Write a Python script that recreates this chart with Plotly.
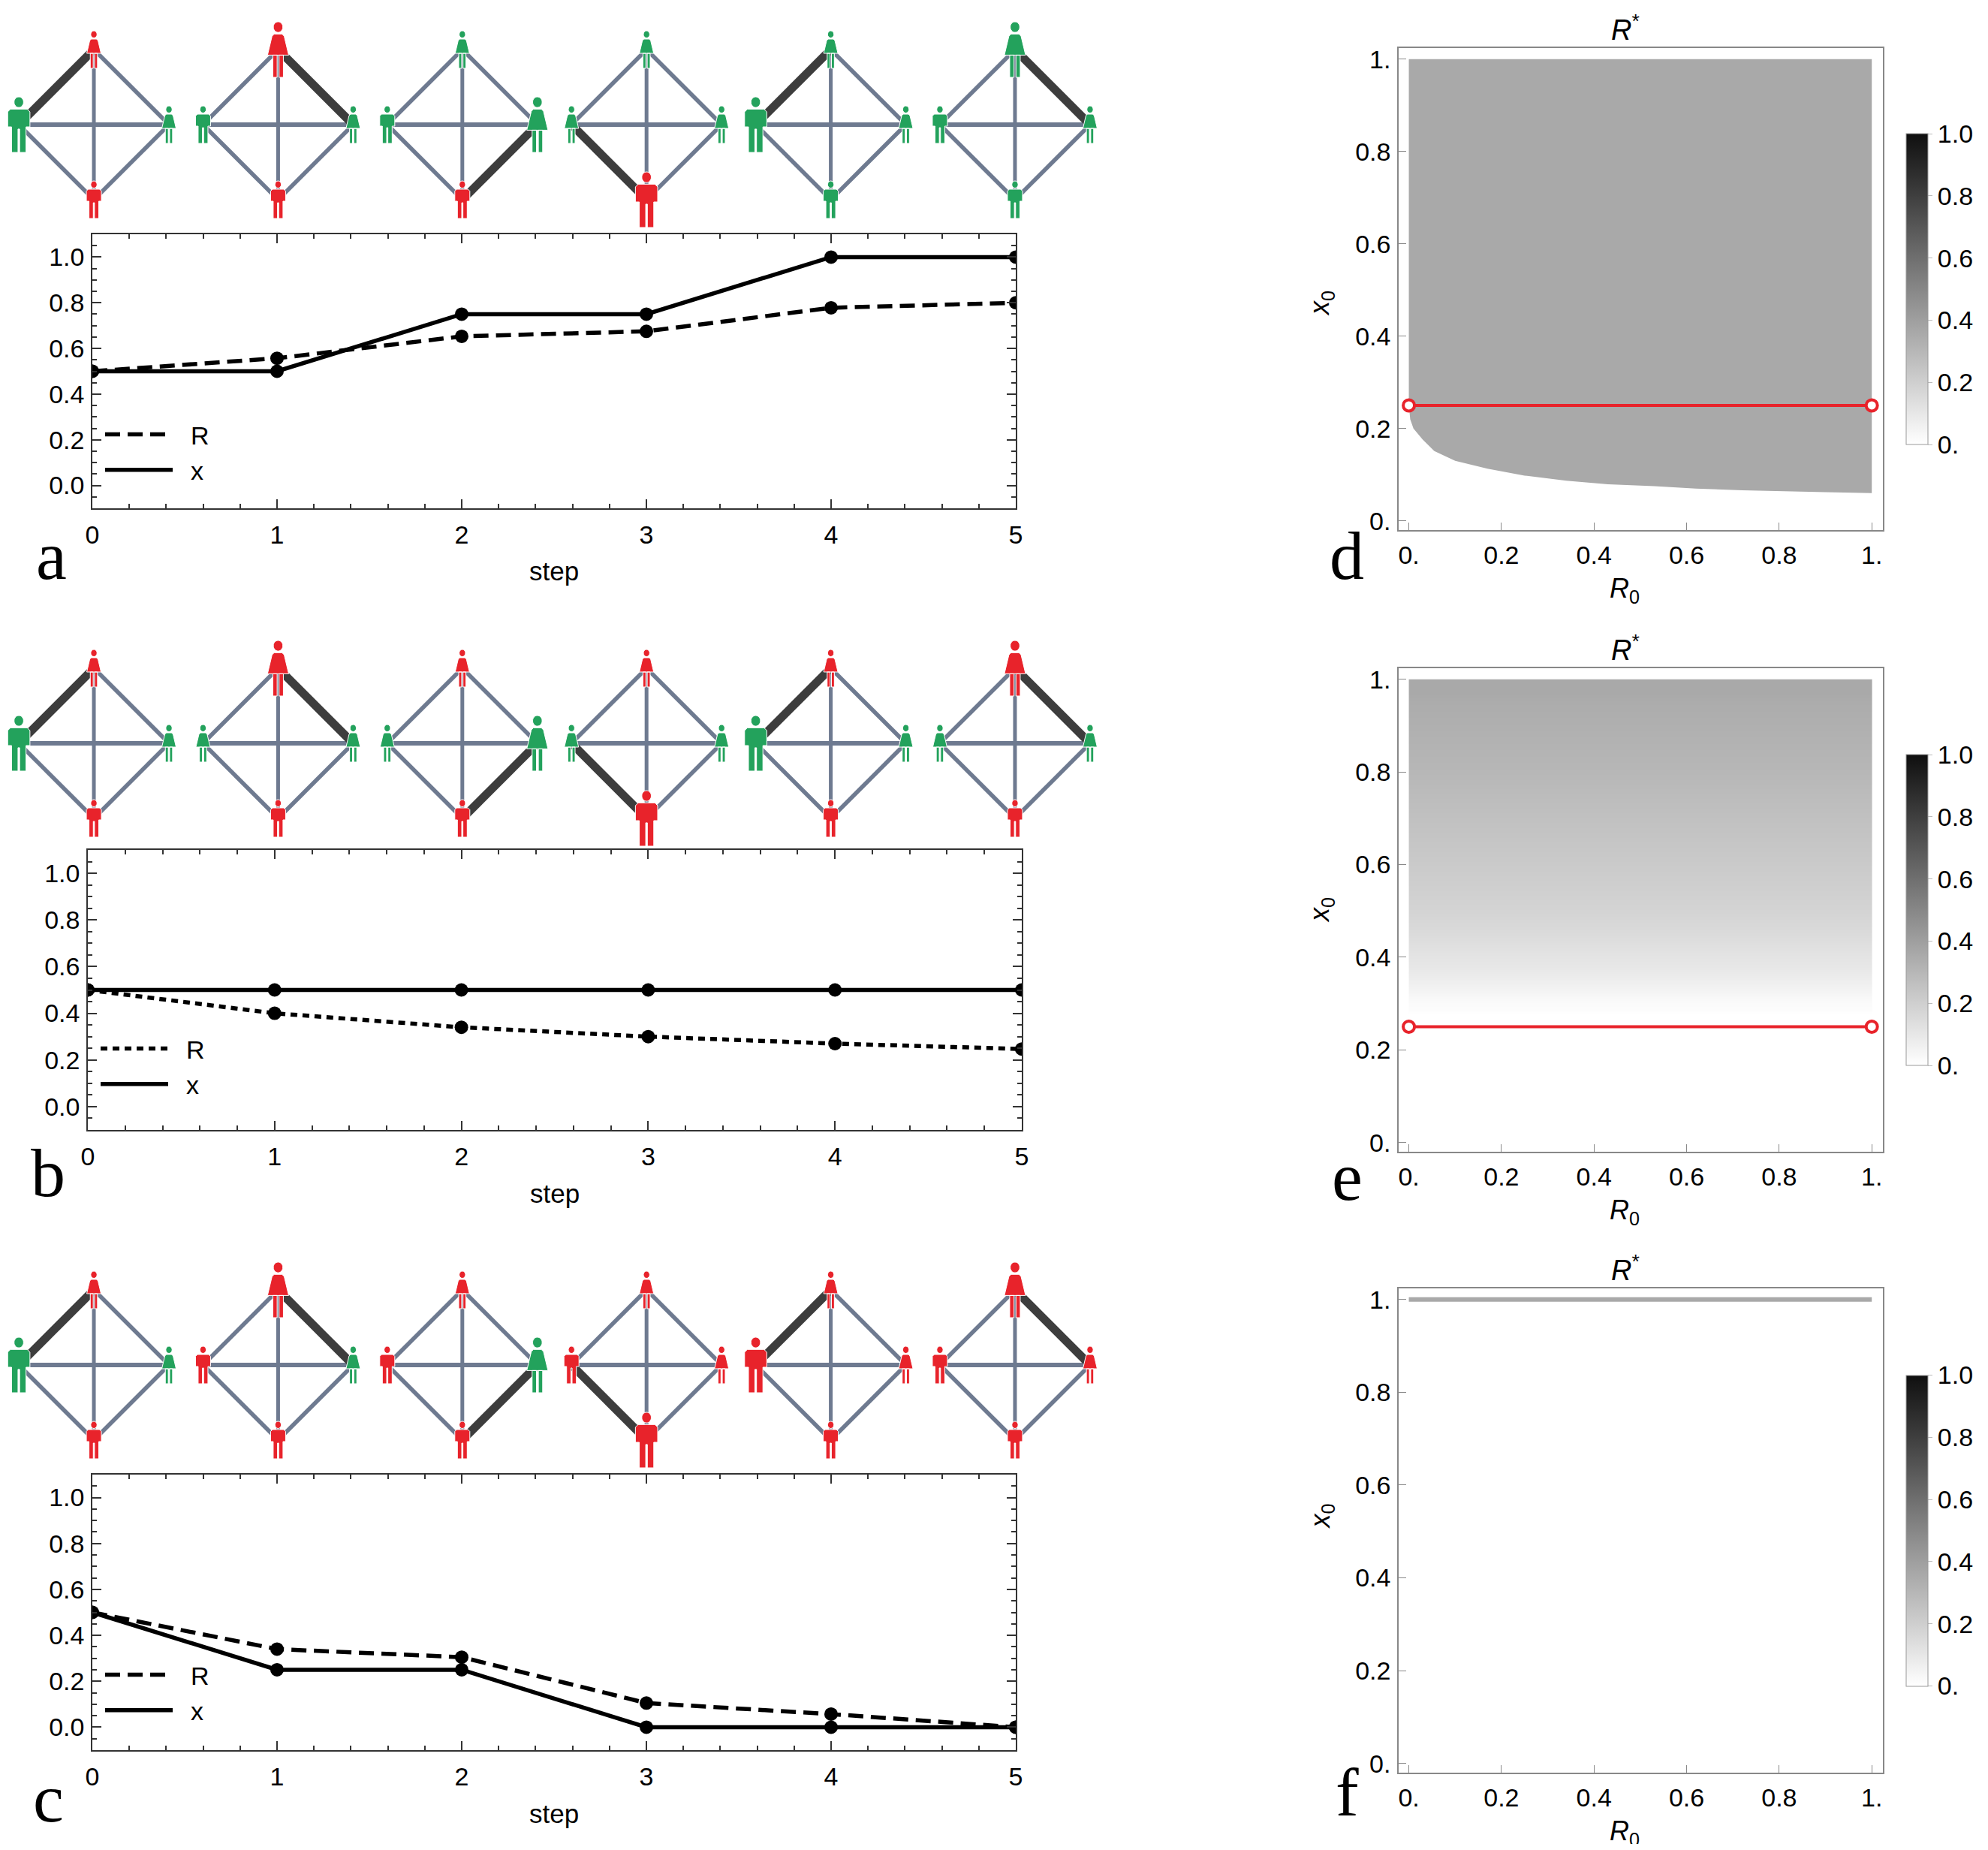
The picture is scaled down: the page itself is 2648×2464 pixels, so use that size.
import plotly.graph_objects as go

W, H = 2648, 2464
PAGE_PAD = 8
FW, FH = W - 2 * PAGE_PAD, H - 2 * PAGE_PAD

# ---- data: panels a-c (line plots + network snapshots) ----
STEPS = [0, 1, 2, 3, 4, 5]

X_A = [0.5, 0.5, 0.75, 0.75, 1.0, 1.0]
R_A = [0.5, 0.557, 0.653, 0.675, 0.778, 0.80]
X_B = [0.5, 0.5, 0.5, 0.5, 0.5, 0.5]
R_B = [0.5, 0.40, 0.34, 0.30, 0.27, 0.247]
X_C = [0.5, 0.25, 0.25, 0.0, 0.0, 0.0]
R_C = [0.5, 0.34, 0.305, 0.105, 0.057, 0.0]

# node order in each snapshot: top, left, right, bottom
STATES_A = ["RGGR", "RGGR", "GGGR", "GGGR", "GGGG", "GGGG"]
STATES_B = ["RGGR", "RGGR", "RGGR", "RGGR", "RGGR", "RGGR"]
STATES_C = ["RGGR", "RRGR", "RRGR", "RRRR", "RRRR", "RRRR"]
GENDER_A = ["FMFM", "FMFM", "FMFM", "FFFM", "FMFM", "FMFM"]
GENDER_B = ["FMFM", "FFFM", "FFFM", "FFFM", "FMFM", "FFFM"]
GENDER_C = ["FMFM", "FMFM", "FMFM", "FMFM", "FMFM", "FMFM"]
SPEAKER = [1, 0, 2, 3, 1, 0]                      # node drawn large
ACTIVE_EDGE = [(0, 1), (0, 2), (2, 3), (1, 3), (0, 1), (0, 2)]
EDGES = [(0, 1), (0, 2), (1, 3), (2, 3), (1, 2), (0, 3)]

# ---- data: panels d-f (R* maps) ----
D_R0 = [0.0, 0.003, 0.01, 0.03, 0.055, 0.1, 0.17, 0.25, 0.34, 0.43, 0.53, 0.62, 0.72, 0.81, 0.9, 1.0]
D_X0 = [0.25, 0.22, 0.20, 0.176, 0.151, 0.13, 0.113, 0.098, 0.087, 0.079, 0.075, 0.07, 0.066, 0.064, 0.062, 0.06]
D_RSTAR = 0.36
E_X0 = [0.27, 0.30, 0.35, 0.4, 0.5, 0.6, 0.7, 0.8, 0.9, 1.0]
E_RSTAR = [0.0, 0.02, 0.07, 0.12, 0.18, 0.22, 0.26, 0.30, 0.33, 0.36]
F_X0 = 1.0
F_RSTAR = 0.36
RED_R0 = [0.0, 1.0]
RED_X0 = [0.25, 0.25]

CB_TICKS = [0, 0.2, 0.4, 0.6, 0.8, 1.0]
CB_TEXT = ["0.", "0.2", "0.4", "0.6", "0.8", "1.0"]
MAP_TICKS = [0, 0.2, 0.4, 0.6, 0.8, 1.0]
MAP_TEXT = ["0.", "0.2", "0.4", "0.6", "0.8", "1."]

# ---- style ----
RED = "#e8232b"
GREEN = "#23a25c"
EDGE_COL = "#6e7a90"
DARK_EDGE = "#3d3d3d"
FONT = "Liberation Sans"
SERIF = "Liberation Serif"
GREYS = [[0, "#ffffff"], [1, "#0f0f0f"]]
TICK_SIZE = 34


def px(x):
    return (x - PAGE_PAD) / FW


def py(y):
    return 1 - (y - PAGE_PAD) / FH


def grey_of(v):
    g = round(255 - 240 * v)
    return f"rgb({g},{g},{g})"


def ellipse(cx, cy, rx, ry):
    kx, ky = 0.5523 * rx, 0.5523 * ry
    return (f"M{cx + rx:.1f},{cy:.1f} "
            f"C{cx + rx:.1f},{cy + ky:.1f} {cx + kx:.1f},{cy + ry:.1f} {cx:.1f},{cy + ry:.1f} "
            f"C{cx - kx:.1f},{cy + ry:.1f} {cx - rx:.1f},{cy + ky:.1f} {cx - rx:.1f},{cy:.1f} "
            f"C{cx - rx:.1f},{cy - ky:.1f} {cx - kx:.1f},{cy - ry:.1f} {cx:.1f},{cy - ry:.1f} "
            f"C{cx + kx:.1f},{cy - ry:.1f} {cx + rx:.1f},{cy - ky:.1f} {cx + rx:.1f},{cy:.1f} Z")


def poly(pts):
    return "M" + " L".join(f"{x:.1f},{y:.1f}" for x, y in pts) + " Z"


def person_path(gender, h):
    top = h / 2
    rx, ry = 0.085 * h, 0.095 * h
    head = ellipse(0, top - ry, rx, ry)
    s = top - 2 * ry - 0.03 * h
    if gender == "M":
        a = 0.2 * h
        c = 0.05 * h
        hip = -0.04 * h
        body = [(-a + c, s), (a - c, s), (a, s - c), (a, hip),
                (0.13 * h, hip), (0.13 * h, -top), (0.015 * h, -top), (0.015 * h, -0.08 * h),
                (-0.015 * h, -0.08 * h), (-0.015 * h, -top), (-0.13 * h, -top), (-0.13 * h, hip),
                (-a, hip), (-a, s - c)]
        return head + " " + poly(body)
    hem = -0.1 * h
    dress = [(-0.07 * h, s), (0.07 * h, s), (0.11 * h, s - 0.04 * h), (0.19 * h, hem),
             (-0.19 * h, hem), (-0.11 * h, s - 0.04 * h)]
    legs_l = [(-0.095 * h, hem), (-0.018 * h, hem), (-0.018 * h, -top), (-0.095 * h, -top)]
    legs_r = [(0.018 * h, hem), (0.095 * h, hem), (0.095 * h, -top), (0.018 * h, -top)]
    return head + " " + poly(dress) + " " + poly(legs_l) + " " + poly(legs_r)


fig = go.Figure()
shapes = []
annotations = []

# ---- network snapshot rows ----
NODE_DX = [0, -0.4075, 0.4075, 0]
NODE_DY = [100, 0, 0, -100]
SMALL_H, BIG_H = 50, 74
NET_ROWS = [(4, 166, STATES_A, GENDER_A), (5, 990, STATES_B, GENDER_B), (6, 1818, STATES_C, GENDER_C)]

layout_axes = {}
for n, cy, states, genders in NET_ROWS:
    xr, yr = f"x{n}", f"y{n}"
    layout_axes[f"xaxis{n}"] = dict(domain=[px(8.5), px(1468.5)], range=[-0.475, 5.475], anchor=yr,
                                   visible=False, fixedrange=True)
    layout_axes[f"yaxis{n}"] = dict(domain=[py(cy + 142), py(cy - 142)], range=[-142, 142], anchor=xr,
                                   visible=False, fixedrange=True)
    groups = {"diag": ([], []), "horiz": ([], []), "vert": ([], []), "dark": ([], [])}
    for s in STEPS:
        for (i, j) in EDGES:
            if (i, j) == ACTIVE_EDGE[s] or (j, i) == ACTIVE_EDGE[s]:
                g = "dark"
            elif (i, j) == (1, 2):
                g = "horiz"
            elif (i, j) == (0, 3):
                g = "vert"
            else:
                g = "diag"
            gx, gy = groups[g]
            gx += [s + NODE_DX[i], s + NODE_DX[j], None]
            gy += [NODE_DY[i], NODE_DY[j], None]
    edge_style = {"diag": (EDGE_COL, 5.5), "horiz": (EDGE_COL, 6), "vert": (EDGE_COL, 5), "dark": (DARK_EDGE, 11)}
    for g, (gx, gy) in groups.items():
        col, w = edge_style[g]
        fig.add_trace(go.Scatter(x=gx, y=gy, mode="lines", line=dict(color=col, width=w),
                                 xaxis=xr, yaxis=yr, showlegend=False, hoverinfo="skip"))
    for s in STEPS:
        for k in range(4):
            h = BIG_H if SPEAKER[s] == k else SMALL_H
            col = RED if states[s][k] == "R" else GREEN
            shapes.append(dict(type="path", xref=xr, yref=yr, xsizemode="pixel", ysizemode="pixel",
                               xanchor=s + NODE_DX[k], yanchor=NODE_DY[k],
                               path=person_path(genders[s][k], h), fillcolor=col,
                               line=dict(width=1, color="white"), layer="above"))

# ---- line plots a-c ----
LINE_PANELS = [
    (1, (123, 1353, 312, 677), X_A, R_A, "20px,10px", "a", (68, 740), 760, "legend"),
    (2, (117, 1361, 1132, 1505), X_B, R_B, "9px,7px", "b", (64, 1562), 1589, "legend2"),
    (3, (123, 1353, 1964, 2331), X_C, R_C, "20px,10px", "c", (64, 2395), 2415, "legend3"),
]
tickfont = dict(family=FONT, size=TICK_SIZE, color="black")
for n, (x0, x1, y0, y1), xs, rs, dash, letter, lpos, step_y, leg in LINE_PANELS:
    xr, yr = f"x{n}", f"y{n}"
    layout_axes[f"xaxis{n}"] = dict(domain=[px(x0), px(x1)], range=[0, 5], anchor=yr,
                                   tickvals=STEPS, ticks="inside", ticklen=12, tickwidth=1.5, tickcolor="#333",
                                   minor=dict(dtick=0.2, tick0=0, ticks="inside", ticklen=6, tickcolor="#333"),
                                   showline=True, linecolor="#333", linewidth=1.5, mirror="ticks",
                                   showgrid=False, zeroline=False, tickfont=tickfont, ticklabelstandoff=4)
    layout_axes[f"yaxis{n}"] = dict(domain=[py(y1), py(y0)], range=[-0.1, 1.1], anchor=xr,
                                   tickvals=[0, 0.2, 0.4, 0.6, 0.8, 1.0],
                                   ticktext=["0.0", "0.2", "0.4", "0.6", "0.8", "1.0"],
                                   ticks="inside", ticklen=12, tickwidth=1.5, tickcolor="#333",
                                   minor=dict(dtick=0.05, tick0=0, ticks="inside", ticklen=6, tickcolor="#333"),
                                   showline=True, linecolor="#333", linewidth=1.5, mirror="ticks",
                                   showgrid=False, zeroline=False, tickfont=tickfont, ticklabelstandoff=2)
    fig.add_trace(go.Scatter(x=STEPS, y=rs, mode="lines+markers", xaxis=xr, yaxis=yr,
                             line=dict(color="black", width=5.5, dash=dash),
                             marker=dict(size=18, color="black"), showlegend=False))
    fig.add_trace(go.Scatter(x=STEPS, y=xs, mode="lines+markers", xaxis=xr, yaxis=yr,
                             line=dict(color="black", width=5.5),
                             marker=dict(size=18, color="black"), showlegend=False))
    fig.add_trace(go.Scatter(x=[None], y=[None], mode="lines", name="\u00a0\u00a0R", xaxis=xr, yaxis=yr,
                             line=dict(color="black", width=5.5, dash=dash), legend=leg, legendgroup="R"))
    fig.add_trace(go.Scatter(x=[None], y=[None], mode="lines", name="\u00a0\u00a0x", xaxis=xr, yaxis=yr,
                             line=dict(color="black", width=5.5), legend=leg, legendgroup="x"))
    annotations.append(dict(text="step", x=px((x0 + x1) / 2), y=py(step_y), xref="paper", yref="paper",
                            showarrow=False, font=dict(family=FONT, size=35, color="black"),
                            xanchor="center", yanchor="middle"))
    annotations.append(dict(text=letter, x=px(lpos[0]), y=py(lpos[1]), xref="paper", yref="paper",
                            showarrow=False, font=dict(family=SERIF, size=92, color="black"),
                            xanchor="center", yanchor="middle"))

legend_common = dict(font=dict(family=FONT, size=TICK_SIZE, color="black"), bgcolor="rgba(0,0,0,0)",
                     xanchor="left", yanchor="top", itemwidth=90, tracegroupgap=50, traceorder="normal")
legend_pos = {"legend": 550, "legend2": 1368, "legend3": 2202}

# ---- R* maps d-f ----
MAP_PANELS = [(7, 64, 706, "d", 740), (8, 890, 1534, "e", 1567), (9, 1716, 2361, "f", 2387)]
MX0, MX1 = 1863, 2508
for n, y0, y1, letter, ly in MAP_PANELS:
    xr, yr = f"x{n}", f"y{n}"
    common = dict(ticks="inside", ticklen=10, tickwidth=1, tickcolor="#888", showline=True,
                  linecolor="#888", linewidth=1.5, mirror=True, showgrid=False, zeroline=False,
                  tickvals=MAP_TICKS, ticktext=MAP_TEXT, tickfont=tickfont)
    layout_axes[f"xaxis{n}"] = dict(domain=[px(MX0), px(MX1)], range=[-0.022, 1.024], anchor=yr,
                                   ticklabelstandoff=2, **common)
    layout_axes[f"yaxis{n}"] = dict(domain=[py(y1), py(y0)], range=[-0.02, 1.024], anchor=xr,
                                   ticklabelstandoff=2, **common)
    cy = (y0 + y1) / 2
    annotations.append(dict(text="<i>R</i><sup>*</sup>", x=px((MX0 + MX1) / 2), y=py(y0 - 27),
                            xref="paper", yref="paper", showarrow=False,
                            font=dict(family=FONT, size=38, color="black"), yanchor="middle"))
    annotations.append(dict(text="<i>x</i><sub>0</sub>", x=px(1785), y=py(cy), xref="paper", yref="paper",
                            showarrow=False, textangle=-90, font=dict(family=FONT, size=36, color="black")))
    annotations.append(dict(text="<i>R</i><sub>0</sub>", x=px((MX0 + MX1) / 2), y=py(y1 + 80),
                            xref="paper", yref="paper", showarrow=False,
                            font=dict(family=FONT, size=36, color="black"), yanchor="middle"))
    annotations.append(dict(text=letter, x=px(1794), y=py(ly), xref="paper", yref="paper",
                            showarrow=False, font=dict(family=SERIF, size=92, color="black"),
                            xanchor="center", yanchor="middle"))


def colorbar(y0, y1):
    return dict(x=px(2539), xanchor="left", xpad=0, ypad=0, y=py((y0 + y1) / 2), yanchor="middle",
                len=414, lenmode="pixels", thickness=29, thicknessmode="pixels",
                outlinecolor="#999", outlinewidth=1, tickvals=CB_TICKS, ticktext=CB_TEXT,
                ticks="outside", ticklen=6, tickcolor="#bbb", tickfont=tickfont)


# d: region above the boundary curve
fig.add_trace(go.Scatter(x=[0.0, 1.0] + D_R0[::-1], y=[1.0, 1.0] + D_X0[::-1], mode="none",
                         fill="toself", fillcolor=grey_of(D_RSTAR), xaxis="x7", yaxis="y7",
                         showlegend=False, hoverinfo="skip"))
fig.add_trace(go.Scatter(x=[0.5], y=[0.5], mode="markers", xaxis="x7", yaxis="y7",
                         marker=dict(size=0.1, color=[D_RSTAR], colorscale=GREYS, cmin=0, cmax=1,
                                     showscale=True, colorbar=colorbar(64, 706)),
                         showlegend=False, hoverinfo="skip"))

# e: vertical gradient
e_edges = [E_X0[0]] + [(a + b) / 2 for a, b in zip(E_X0[:-1], E_X0[1:])] + [E_X0[-1]]
fig.add_trace(go.Heatmap(x=[0.0, 1.0], y=e_edges, z=[[v] for v in E_RSTAR], zsmooth="best",
                         colorscale=GREYS, zmin=0, zmax=1, xaxis="x8", yaxis="y8",
                         showscale=True, colorbar=colorbar(890, 1534), hoverinfo="skip"))

# f: thin band at x0 = 1
fig.add_trace(go.Scatter(x=[0.0, 1.0], y=[F_X0, F_X0], mode="lines", xaxis="x9", yaxis="y9",
                         line=dict(color=grey_of(F_RSTAR), width=6), showlegend=False, hoverinfo="skip"))
fig.add_trace(go.Scatter(x=[0.5], y=[0.5], mode="markers", xaxis="x9", yaxis="y9",
                         marker=dict(size=0.1, color=[F_RSTAR], colorscale=GREYS, cmin=0, cmax=1,
                                     showscale=True, colorbar=colorbar(1716, 2361)),
                         showlegend=False, hoverinfo="skip"))

# red initial-condition lines on d and e
for n in (7, 8):
    fig.add_trace(go.Scatter(x=RED_R0, y=RED_X0, mode="lines+markers", xaxis=f"x{n}", yaxis=f"y{n}",
                             line=dict(color=RED, width=4),
                             marker=dict(size=15, color="white", line=dict(color=RED, width=4)),
                             cliponaxis=False, showlegend=False, hoverinfo="skip"))

fig.update_layout(
    width=FW, height=FH, margin=dict(l=0, r=0, t=0, b=0),
    paper_bgcolor="white", plot_bgcolor="white", template="none",
    font=dict(family=FONT, size=TICK_SIZE, color="black"),
    shapes=shapes, annotations=annotations,
    legend=dict(x=px(135), y=py(legend_pos["legend"]), **legend_common),
    legend2=dict(x=px(129), y=py(legend_pos["legend2"]), **legend_common),
    legend3=dict(x=px(135), y=py(legend_pos["legend3"]), **legend_common),
    **layout_axes,
)

fig.write_html("out.html")
